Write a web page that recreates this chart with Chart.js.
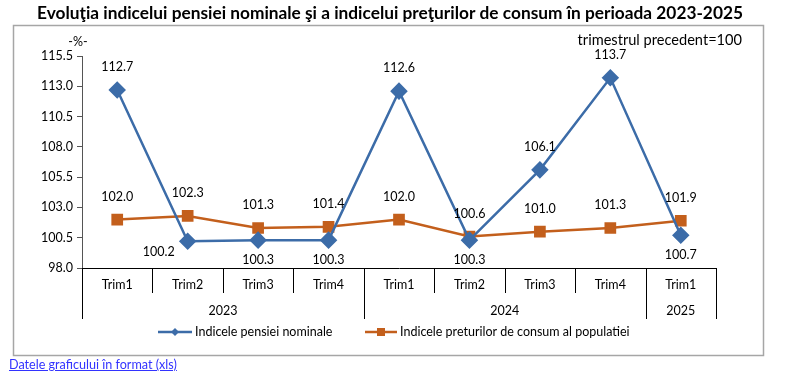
<!DOCTYPE html>
<html lang="ro">
<head>
<meta charset="UTF-8">
<title>Evoluţia indicelui pensiei nominale</title>
<script src="https://cdn.jsdelivr.net/npm/chart.js"></script>
<style>
  body { margin: 0; background: #fff; }
  #wrap { position: relative; width: 788px; height: 386px; }
  #link { position: absolute; left: 9px; top: 357px; font: 12.6px Lato, sans-serif; color: #3333ff; text-decoration: underline; }
</style>
</head>
<body>
<div id="wrap">
  <canvas id="grafic" width="788" height="386"></canvas>
  <a id="link" href="#">Datele graficului în format (xls)</a>
</div>
<script>
// date
const trimestre = ['Trim1', 'Trim2', 'Trim3', 'Trim4', 'Trim1', 'Trim2', 'Trim3', 'Trim4', 'Trim1'];
const ani = ['2023', '2023', '2023', '2023', '2024', '2024', '2024', '2024', '2025'];
const pensie = [112.7, 100.2, 100.3, 100.3, 112.6, 100.3, 106.1, 113.7, 100.7];
const preturi = [102.0, 102.3, 101.3, 101.4, 102.0, 100.6, 101.0, 101.3, 101.9];
const yTicks = [98.0, 100.5, 103.0, 105.5, 108.0, 110.5, 113.0, 115.5];

// unde se pune eticheta fiecarui punct
const pozPensie = ['sus', 'stanga', 'jos', 'jos', 'sus', 'jos', 'sus', 'sus', 'jos'];
const pozPreturi = ['sus', 'sus', 'sus', 'sus', 'sus', 'sus', 'sus', 'sus', 'sus'];

const ALBASTRU = '#3c6ca8';
const PORTOCALIU = '#c35f1c';
const FONT = 'Lato, "Open Sans", sans-serif';

const decor = {
  id: 'decor',
  beforeDraw(chart) {
    const c = chart.ctx;
    c.save();
    c.strokeStyle = '#a6a6a6';
    c.lineWidth = 1.5;
    c.strokeRect(13.5, 25.5, 750, 330);
    c.fillStyle = '#000';
    c.font = 'bold 17.3px ' + FONT;
    c.textAlign = 'center';
    c.textBaseline = 'middle';
    c.fillText('Evoluţia indicelui pensiei nominale şi a indicelui preţurilor de consum în perioada 2023-2025', 390, 13);
    c.font = '12.5px ' + FONT;
    c.fillText('-%-', 78, 42);
    c.font = '14.6px ' + FONT;
    c.textAlign = 'right';
    c.fillText('trimestrul precedent=100', 742, 40);
    c.restore();
  },
  afterDraw(chart) {
    const c = chart.ctx;
    const x = chart.scales.x;
    const area = chart.chartArea;
    const w = (x.right - x.left) / trimestre.length;
    c.save();
    c.strokeStyle = '#000';
    c.lineWidth = 1;
    c.fillStyle = '#000';
    c.font = '12.5px ' + FONT;
    c.textAlign = 'center';
    c.textBaseline = 'middle';
    // linii de separare si etichete trimestre
    for (let i = 0; i <= trimestre.length; i++) {
      const px = Math.round(x.left + i * w) + 0.5;
      const grup = i === 0 || i === trimestre.length || ani[i] !== ani[i - 1];
      c.beginPath();
      c.moveTo(px, area.bottom);
      c.lineTo(px, area.bottom + (grup ? 51 : 25));
      c.stroke();
    }
    trimestre.forEach((t, i) => {
      c.fillText(t, x.getPixelForValue(i), area.bottom + 17);
    });
    // etichete ani
    let start = 0;
    for (let i = 1; i <= ani.length; i++) {
      if (i === ani.length || ani[i] !== ani[start]) {
        const cx = (x.getPixelForValue(start) + x.getPixelForValue(i - 1)) / 2;
        c.fillText(ani[start], cx, area.bottom + 43);
        start = i;
      }
    }
    // etichete valori
    const serii = [[pensie, pozPensie, 0], [preturi, pozPreturi, 1]];
    serii.forEach(([vals, poz, di]) => {
      const meta = chart.getDatasetMeta(di);
      vals.forEach((v, i) => {
        const p = meta.data[i];
        let lx = p.x, ly = p.y;
        if (poz[i] === 'sus') ly -= 23;
        else if (poz[i] === 'jos') ly += 20;
        else { lx -= 29; ly += 11; }
        c.fillText(v.toFixed(1), lx, ly);
      });
    });
    // legenda
    const leg = [[158, 192, 'Indicele pensiei nominale', ALBASTRU, 'romb'],
                 [365, 397, 'Indicele preturilor de consum al populatiei', PORTOCALIU, 'patrat']];
    c.textAlign = 'left';
    leg.forEach(([x1, x2, txt, col, forma]) => {
      const y = 332;
      c.strokeStyle = col;
      c.lineWidth = 2.5;
      c.beginPath();
      c.moveTo(x1, y);
      c.lineTo(x2, y);
      c.stroke();
      c.fillStyle = col;
      const m = (x1 + x2) / 2;
      if (forma === 'romb') {
        c.beginPath();
        c.moveTo(m, y - 4); c.lineTo(m + 4, y); c.lineTo(m, y + 4); c.lineTo(m - 4, y);
        c.closePath();
        c.fill();
      } else {
        c.fillRect(m - 4, y - 4, 8, 8);
      }
      c.fillStyle = '#000';
      c.font = '12.5px ' + FONT;
      c.fillText(txt, x2 + 3, y);
    });
    c.restore();
  }
};

new Chart(document.getElementById('grafic'), {
  type: 'line',
  data: {
    labels: trimestre,
    datasets: [
      {
        label: 'Indicele pensiei nominale',
        data: pensie,
        borderColor: ALBASTRU,
        backgroundColor: ALBASTRU,
        borderWidth: 2.5,
        pointStyle: 'rectRot',
        pointRadius: 7,
        pointHoverRadius: 7,
        tension: 0
      },
      {
        label: 'Indicele preturilor de consum al populatiei',
        data: preturi,
        borderColor: PORTOCALIU,
        backgroundColor: PORTOCALIU,
        borderWidth: 2.5,
        pointStyle: 'rect',
        pointRadius: 6.5,
        pointHoverRadius: 6.5,
        tension: 0
      }
    ]
  },
  options: {
    responsive: false,
    animation: false,
    layout: { padding: { left: 0, right: 72, top: 56, bottom: 118 } },
    plugins: {
      legend: { display: false },
      title: { display: false },
      tooltip: { enabled: false }
    },
    scales: {
      x: {
        type: 'category',
        offset: true,
        grid: { display: false },
        ticks: { display: false },
        border: { display: true, color: '#000', width: 1 },
        afterFit(s) { s.height = 0; }
      },
      y: {
        min: 98.0,
        max: 115.5,
        afterBuildTicks(s) { s.ticks = yTicks.map(v => ({ value: v })); },
        ticks: {
          color: '#000',
          font: { family: FONT, size: 12.5 },
          padding: 4,
          callback: v => v.toFixed(1)
        },
        grid: { drawOnChartArea: false, drawTicks: true, tickLength: 5, color: '#555' },
        border: { display: true, color: '#555', width: 1 },
        afterFit(s) { s.width = 82; }
      }
    }
  },
  plugins: [decor]
});
</script>
</body>
</html>
